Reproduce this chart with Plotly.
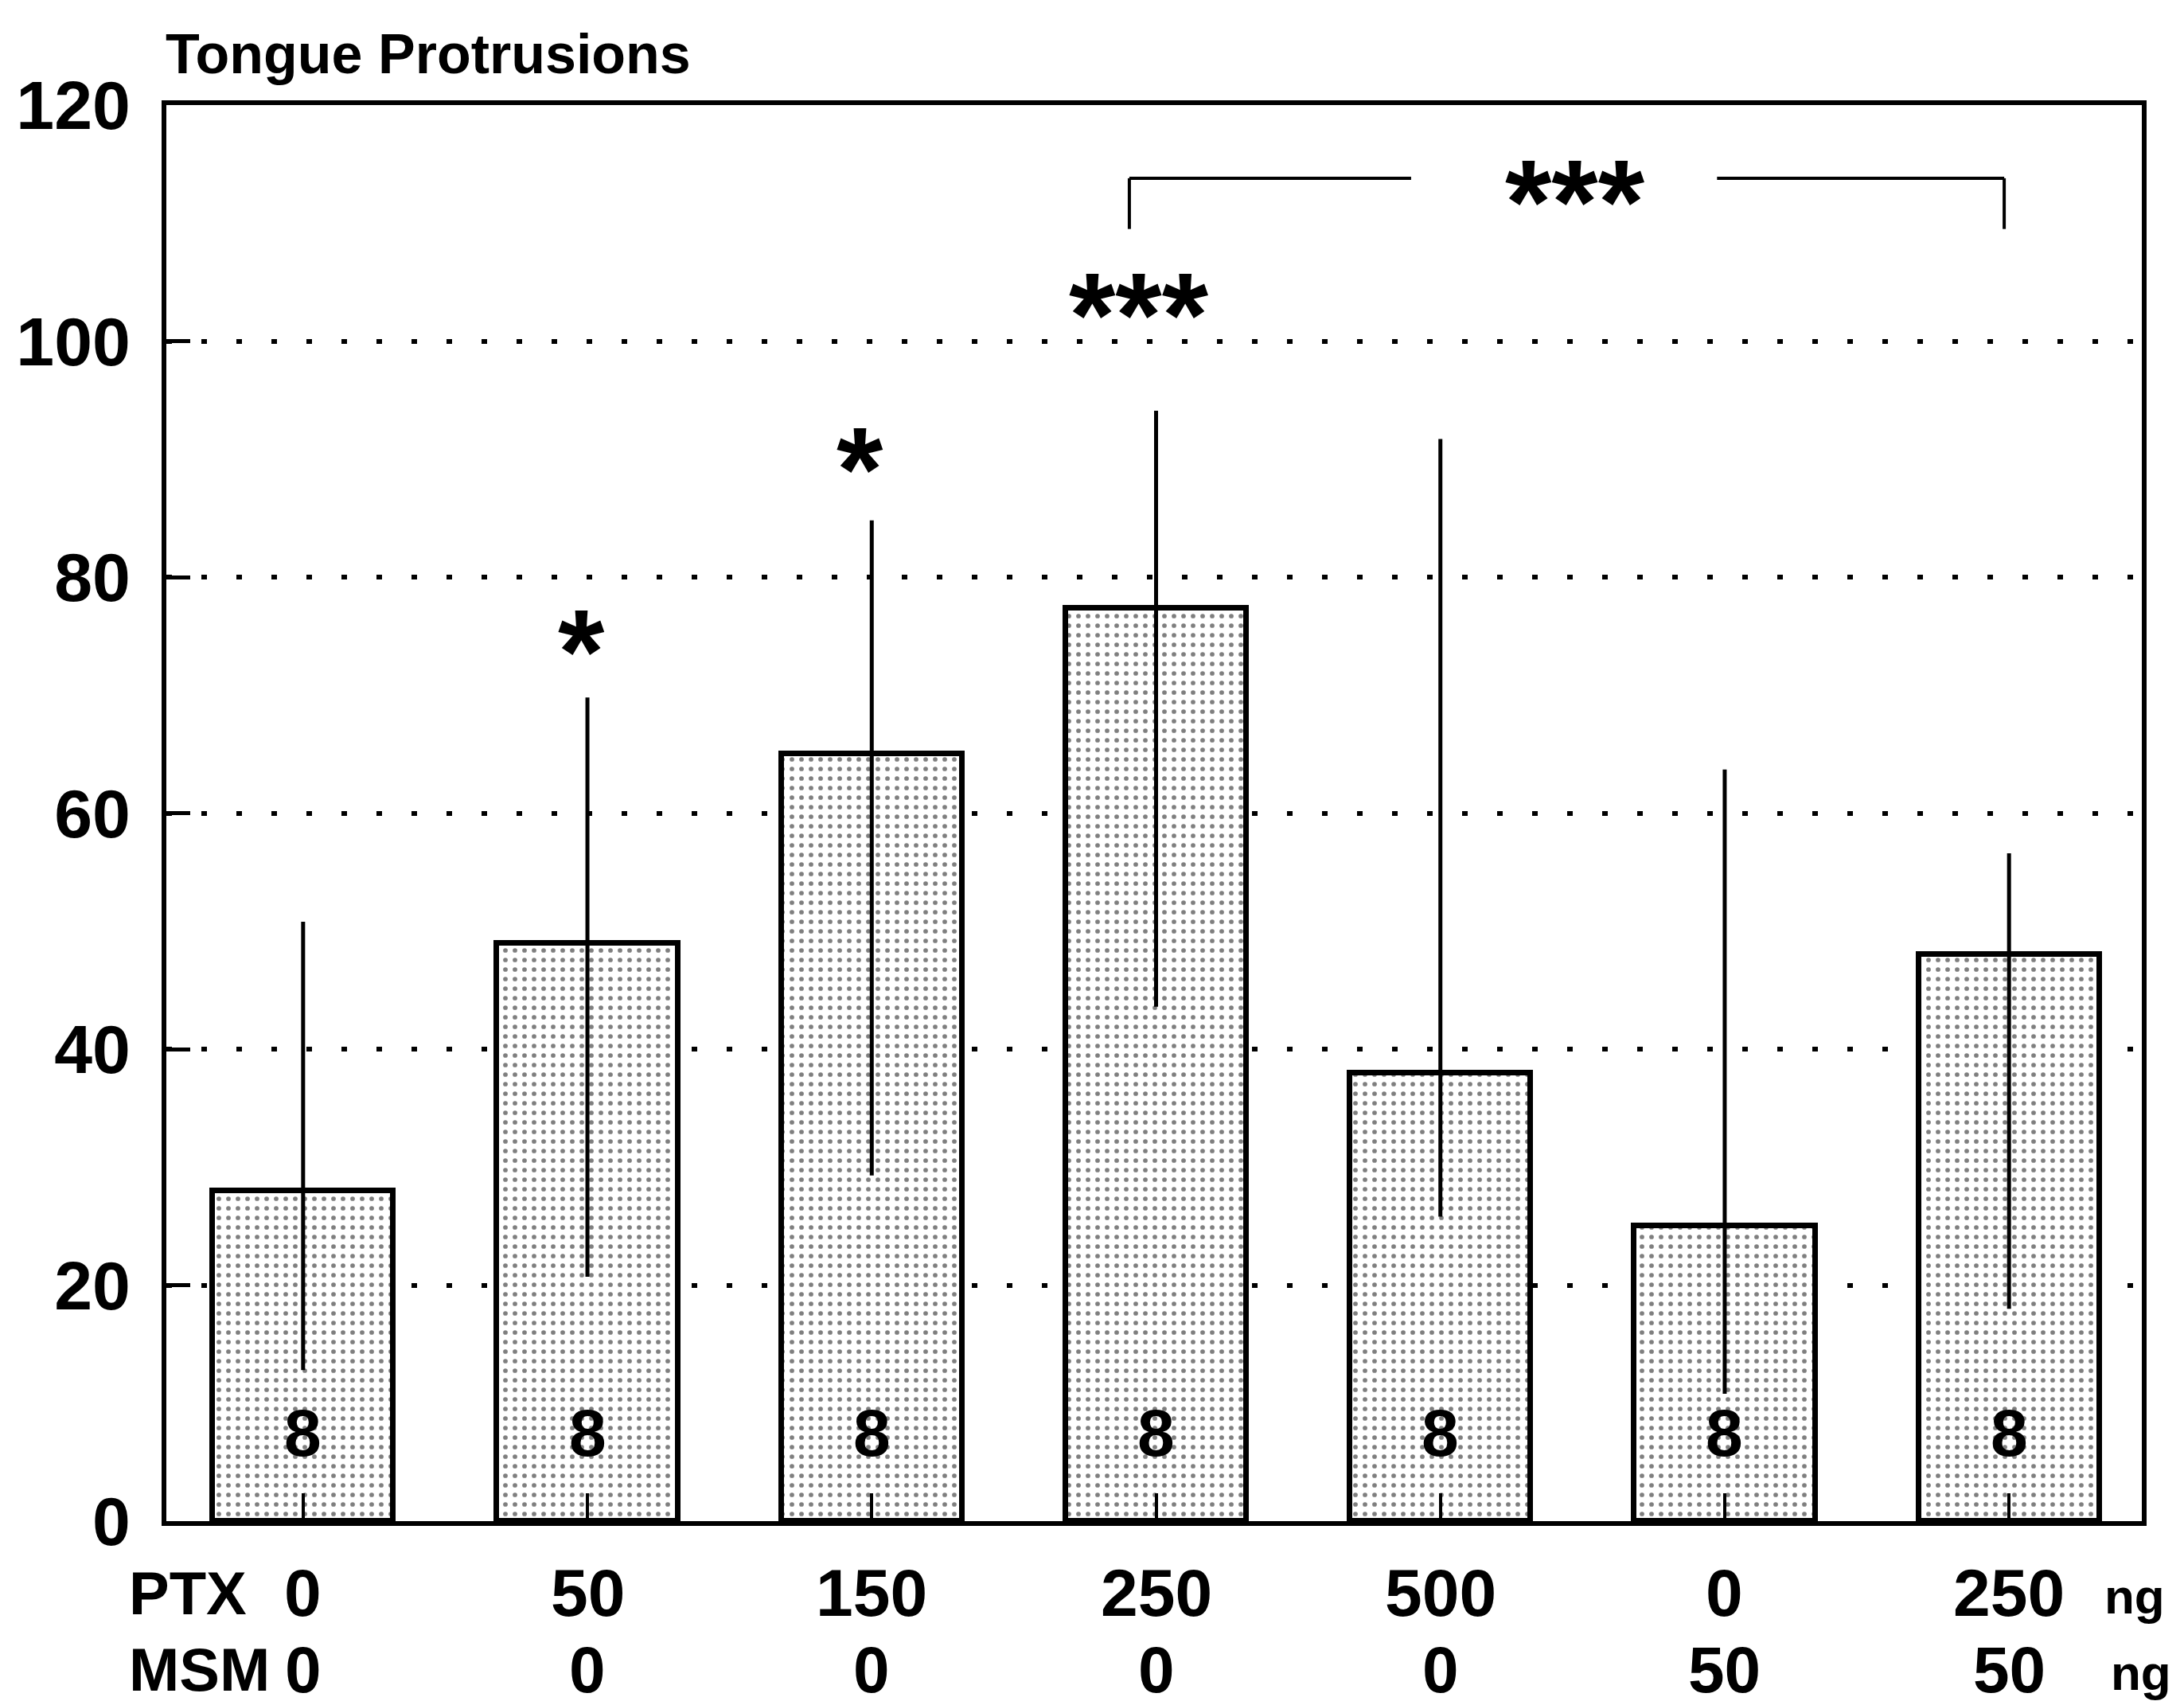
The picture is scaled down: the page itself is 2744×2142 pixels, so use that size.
import plotly.graph_objects as go

# ---- data ----
groups = ["0/0", "50/0", "150/0", "250/0", "500/0", "0/50", "250/50"]
ptx_doses = ["0", "50", "150", "250", "500", "0", "250"]
msm_doses = ["0", "0", "0", "0", "0", "50", "50"]
means = [28, 49, 65, 77.4, 38, 25, 48]
err_top = [50.8, 69.8, 84.8, 94.1, 91.7, 63.7, 56.6]
err_bottom = [12.8, 20.7, 29.3, 43.6, 25.8, 10.8, 18.0]
n_values = [8, 8, 8, 8, 8, 8, 8]

sig_labels = ["*", "*", "***"]
sig_x = [0.98, 1.96, 2.94]
sig_y = [75.1, 90.5, 103.6]

bracket_x = [2.906, 5.983]
bracket_gap = [3.897, 4.973]
bracket_y_top = 113.8
bracket_y_bottom = 109.5
bracket_label = "***"
bracket_label_x = 4.475
bracket_label_y = 113.2

y_ticks = [0, 20, 40, 60, 80, 100, 120]

FONT = "Liberation Sans"
L, R, T, B = 199, 61, 124, 239
PW = 2744 - L - R

x_idx = list(range(len(groups)))
err_plus = [t - m for t, m in zip(err_top, means)]
err_minus = [m - b for m, b in zip(means, err_bottom)]


def bold(size, family=FONT):
    return dict(size=size, family=family, weight="bold", color="black")


fig = go.Figure()
fig.add_trace(go.Bar(
    x=x_idx, y=means, width=0.636,
    marker=dict(color="white", line=dict(color="black", width=7),
                pattern=dict(shape=".", size=12, solidity=0.18,
                             fgcolor="black", bgcolor="white")),
    error_y=dict(type="data", symmetric=False, array=err_plus,
                 arrayminus=err_minus, color="black", thickness=5, width=0),
    showlegend=False,
))

annotations = []
# n labels
for i, n in enumerate(n_values):
    annotations.append(dict(x=i, y=7.5, xref="x", yref="y", text=str(n),
                            showarrow=False, font=bold(84)))
# significance
for lab, sx, sy in zip(sig_labels, sig_x, sig_y):
    annotations.append(dict(x=sx, y=sy, xref="x", yref="y", text=lab, yshift=-21,
                            showarrow=False, font=bold(150)))
annotations.append(dict(x=bracket_label_x, y=bracket_label_y, xref="x", yref="y",
                        text=bracket_label, yshift=-21, showarrow=False, font=bold(150)))
# x labels (two rows)
ROW1, ROW2 = -90, -186
for i, (p, m) in enumerate(zip(ptx_doses, msm_doses)):
    annotations.append(dict(x=i, y=0, xref="x", yref="paper", yanchor="middle", yshift=ROW1,
                            text=p, showarrow=False, font=bold(84)))
    annotations.append(dict(x=i, y=0, xref="x", yref="paper", yanchor="middle", yshift=ROW2,
                            text=m, showarrow=False, font=bold(82)))
for txt, ys in [("PTX", ROW1), ("MSM", ROW2)]:
    annotations.append(dict(x=(150 - L) / PW, y=0, xref="paper", yref="paper", yanchor="middle",
                            yshift=ys, text=txt, xanchor="left", showarrow=False,
                            font=bold(76)))
for px, ys in [(2634, ROW1 - 4), (2642, ROW2 - 4)]:
    annotations.append(dict(x=(px - L) / PW, y=0, xref="paper", yref="paper", yanchor="middle",
                            yshift=ys, text="ng", xanchor="left", showarrow=False,
                            font=bold(62)))
# title
annotations.append(dict(x=(196 - L) / PW, y=1, xref="paper", yref="paper", yanchor="middle",
                        yshift=(T - 60), text="Tongue Protrusions", xanchor="left",
                        showarrow=False, font=bold(70)))

line_style = dict(color="black", width=4)
shapes = [
    dict(type="line", xref="x", yref="y", x0=bracket_x[0], x1=bracket_x[0],
         y0=bracket_y_bottom, y1=bracket_y_top, line=line_style),
    dict(type="line", xref="x", yref="y", x0=bracket_x[0], x1=bracket_gap[0],
         y0=bracket_y_top, y1=bracket_y_top, line=line_style),
    dict(type="line", xref="x", yref="y", x0=bracket_gap[1], x1=bracket_x[1],
         y0=bracket_y_top, y1=bracket_y_top, line=line_style),
    dict(type="line", xref="x", yref="y", x0=bracket_x[1], x1=bracket_x[1],
         y0=bracket_y_top, y1=bracket_y_bottom, line=line_style),
]

fig.update_layout(
    width=2744, height=2142, autosize=False,
    margin=dict(l=L, r=R, t=T, b=B),
    paper_bgcolor="white", plot_bgcolor="white",
    annotations=annotations, shapes=shapes,
    bargap=0,
)
fig.update_xaxes(range=[-0.481, 6.467], tickvals=x_idx, showticklabels=False,
                 ticks="inside", ticklen=35, tickwidth=4, tickcolor="black",
                 showline=True, linecolor="black", linewidth=6, mirror=True,
                 showgrid=False, zeroline=False)
fig.update_yaxes(range=[0, 120], tickvals=y_ticks, ticks="inside", ticklen=30, tickwidth=5,
                 tickcolor="black", showline=True, linecolor="black", linewidth=6, mirror=True,
                 showgrid=True, gridcolor="black", gridwidth=6, griddash="7px,37px",
                 zeroline=False, ticklabelstandoff=22,
                 tickfont=bold(86))

fig.write_html("out.html")
